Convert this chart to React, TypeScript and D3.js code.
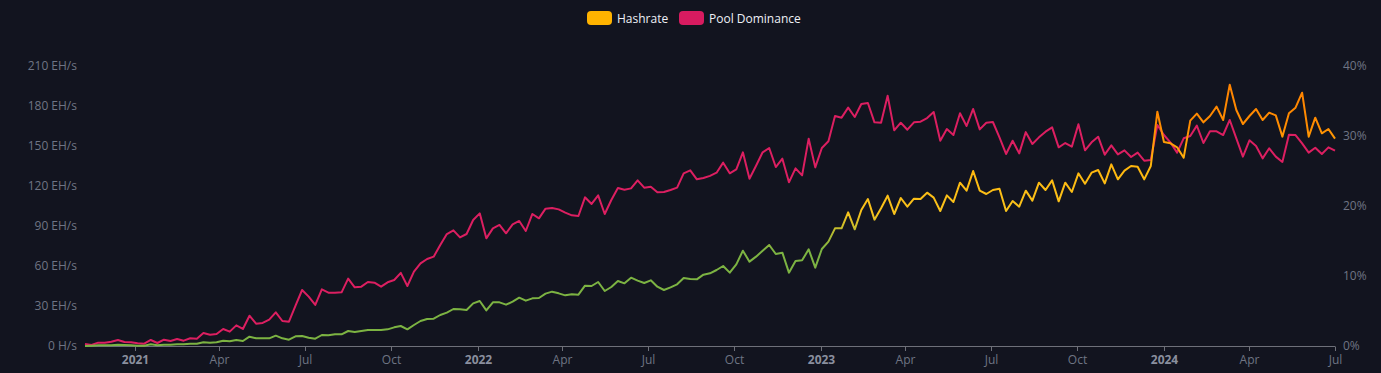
import React, { useEffect } from "react";
import * as d3 from "d3";

// weekly samples, Nov 9 2020 -> Jul 1 2024
const startDate = new Date(2020, 10, 9);
const endDate = new Date(2024, 6, 1);

const hashrate = [
  0, 0.25, 0.5, 0.5, 0.5, 1.0, 0.75, 0.5, 0.25, 0.25,
  1.25, 0.5, 1.0, 1.0, 1.25, 1.25, 1.75, 1.75, 2.75, 2.5,
  2.75, 4.0, 3.5, 4.5, 3.75, 7.0, 5.75, 5.75, 5.75, 7.75,
  5.75, 4.75, 7.25, 7.5, 6.25, 5.5, 8.25, 8.0, 8.75, 8.75,
  11.25, 10.5, 11.25, 12.0, 12.0, 12.0, 12.5, 14.0, 15.0, 12.5,
  15.75, 18.75, 20.25, 20.5, 23.25, 25.0, 27.75, 27.5, 27.0, 32.0,
  33.75, 26.75, 32.75, 32.75, 31.0, 33.25, 36.25, 34.0, 35.75, 36.0,
  39.25, 40.75, 39.5, 38.0, 38.75, 38.5, 45.25, 45.0, 48.0, 41.25,
  44.25, 48.75, 47.0, 51.25, 49.0, 47.25, 49.25, 44.5, 42.0, 44.0,
  46.25, 51.0, 50.25, 50.0, 53.5, 54.5, 57.0, 60.0, 55.0, 61.25,
  71.5, 63.25, 67.0, 71.5, 75.75, 69.0, 70.0, 55.0, 63.75, 64.25,
  72.5, 58.75, 72.75, 78.25, 88.25, 88.25, 100.25, 87.5, 102.0, 110.25,
  94.75, 103.25, 112.75, 99.0, 111.0, 104.5, 110.5, 110.25, 115.0, 111.25,
  101.25, 113.0, 108.0, 122.5, 116.5, 131.25, 116.5, 114.0, 117.0, 118.0,
  101.25, 108.75, 104.5, 116.5, 109.0, 122.5, 117.0, 124.25, 108.5, 122.5,
  115.5, 129.5, 121.75, 130.0, 132.0, 122.0, 136.25, 125.0, 131.5, 135.0,
  134.5, 125.0, 135.0, 175.75, 153.0, 152.0, 149.0, 141.25, 169.0, 174.25,
  167.75, 172.5, 179.5, 169.5, 196.0, 177.0, 166.5, 172.5, 177.75, 169.5,
  175.0, 173.0, 157.0, 174.5, 178.75, 190.0, 157.0, 171.25, 159.5, 162.75, 155.5,
];

const dominance = [
  0.29, 0.14, 0.48, 0.48, 0.62, 0.86, 0.57, 0.52, 0.38, 0.33,
  0.86, 0.43, 0.9, 0.71, 1.0, 0.76, 1.1, 1.05, 1.86, 1.62,
  1.71, 2.43, 2.05, 2.95, 2.43, 4.33, 3.19, 3.29, 3.76, 4.81,
  3.57, 3.48, 5.76, 8.0, 7.05, 5.86, 8.1, 7.62, 7.62, 7.67,
  9.62, 8.38, 8.48, 9.14, 9.05, 8.48, 9.1, 9.43, 10.45, 8.57,
  10.62, 11.81, 12.43, 12.76, 14.43, 16.0, 16.52, 15.52, 16.0, 18.0,
  18.95, 15.38, 16.81, 17.29, 16.1, 17.38, 17.86, 16.43, 18.86, 18.24,
  19.62, 19.71, 19.52, 19.05, 18.67, 18.57, 21.24, 20.29, 21.52, 18.86,
  20.86, 22.57, 22.33, 22.52, 23.67, 22.62, 22.76, 21.95, 22.0, 22.29,
  22.62, 24.67, 25.1, 23.81, 24.0, 24.3, 24.76, 26.19, 24.67, 25.24,
  27.67, 23.9, 25.76, 27.67, 28.29, 25.57, 26.76, 23.38, 25.38, 24.38,
  29.62, 25.52, 28.29, 29.24, 32.86, 32.62, 34.05, 32.71, 34.57, 34.71,
  31.95, 31.9, 35.76, 30.81, 31.9, 30.9, 31.95, 32.05, 32.57, 33.43,
  29.33, 31.0, 30.14, 33.24, 31.43, 33.86, 30.95, 31.9, 32.0, 29.81,
  27.43, 29.33, 27.52, 30.55, 28.86, 29.81, 30.62, 31.24, 28.38, 29.0,
  28.48, 31.67, 27.95, 29.1, 29.9, 27.33, 28.67, 27.38, 27.95, 27.0,
  27.62, 26.48, 26.57, 31.57, 30.14, 29.05, 27.62, 29.67, 30.0, 31.48,
  29.0, 30.67, 30.67, 30.14, 32.29, 29.67, 27.05, 29.38, 28.57, 26.81,
  28.24, 27.05, 26.29, 30.19, 30.14, 28.95, 27.62, 28.33, 27.43, 28.38, 27.9,
];

const leftTicks = [0, 30, 60, 90, 120, 150, 180, 210];
const rightTicks = [0, 10, 20, 30, 40];
const monthNames = ["Jan", "Feb", "Mar", "Apr", "May", "Jun", "Jul", "Aug", "Sep", "Oct", "Nov", "Dec"];

const legendItems = [
  { name: "Hashrate", color: "#ffb300" },
  { name: "Pool Dominance", color: "#d81b60" },
];

const W = 1381;
const H = 373;
const FONT = "'Open Sans', 'Noto Sans', sans-serif";

export default function App() {
  useEffect(() => {
    document.body.style.margin = "0";
    document.body.style.background = "#12141f";
  }, []);

  const dates = hashrate.map((_, i) => d3.timeDay.offset(startDate, i * 7));

  const x = d3.scaleTime().domain([startDate, endDate]).range([85, 1335]);
  const yL = d3.scaleLinear().domain([0, 210]).range([346, 66]);
  const yR = d3.scaleLinear().domain([0, 40]).range([346, 66]);

  const hashLine = d3
    .line<number>()
    .x((_, i) => x(dates[i]))
    .y(d => yL(d));
  const domLine = d3
    .line<number>()
    .x((_, i) => x(dates[i]))
    .y(d => yR(d));

  const xTicks = d3.timeMonth.every(3)!.range(d3.timeMonth.ceil(startDate), d3.timeDay.offset(endDate, 1));

  // color by value, like a visual map
  const stops = [
    { v: 0, c: "#7cb342" },
    { v: 72, c: "#7cb342" },
    { v: 100, c: "#f9c31c" },
    { v: 135, c: "#ffb70d" },
    { v: 165, c: "#ff8c00" },
    { v: 210, c: "#ff7f00" },
  ];

  return (
    <svg width={W} height={H} style={{ display: "block", background: "#12141f" }} fontFamily={FONT}>
      <defs>
        <linearGradient id="hashGrad" gradientUnits="userSpaceOnUse" x1={0} x2={0} y1={yL(0)} y2={yL(210)}>
          {stops.map(s => (
            <stop key={s.v} offset={s.v / 210} stopColor={s.c} />
          ))}
        </linearGradient>
      </defs>

      {/* legend */}
      <g>
        {legendItems.map((d, i) => {
          const lx = i === 0 ? 587 : 679;
          return (
            <g key={d.name} transform={`translate(${lx},11)`}>
              <rect width={25} height={14} rx={4} fill={d.color} />
              <text x={30} y={11.5} fontSize={12} fill="#eef0f6">
                {d.name}
              </text>
            </g>
          );
        })}
      </g>

      {/* left axis labels */}
      {leftTicks.map(t => (
        <text key={t} x={77} y={yL(t) + 4} textAnchor="end" fontSize={12} fill="#6f7484">
          {t === 0 ? "0 H/s" : `${t} EH/s`}
        </text>
      ))}

      {/* right axis labels */}
      {rightTicks.map(t => (
        <text key={t} x={1343} y={yR(t) + 4} fontSize={12} fill="#6f7484">
          {`${t}%`}
        </text>
      ))}

      {/* x axis */}
      <line x1={85} x2={1335} y1={346.5} y2={346.5} stroke="#6e7079" />
      {xTicks.map(t => {
        const isYear = t.getMonth() === 0;
        const px = Math.round(x(t)) + 0.5;
        return (
          <g key={t.getTime()}>
            <line x1={px} x2={px} y1={346.5} y2={351} stroke="#6e7079" />
            <text
              x={px}
              y={364}
              textAnchor="middle"
              fontSize={12}
              fontWeight={isYear ? "bold" : "normal"}
              fill={isYear ? "#8a8f9e" : "#6f7484"}
            >
              {isYear ? String(t.getFullYear()) : monthNames[t.getMonth()]}
            </text>
          </g>
        );
      })}

      {/* series */}
      <path d={domLine(dominance) ?? ""} fill="none" stroke="#dc1f61" strokeWidth={2} strokeLinejoin="round" />
      <path d={hashLine(hashrate) ?? ""} fill="none" stroke="url(#hashGrad)" strokeWidth={2} strokeLinejoin="round" />
    </svg>
  );
}
